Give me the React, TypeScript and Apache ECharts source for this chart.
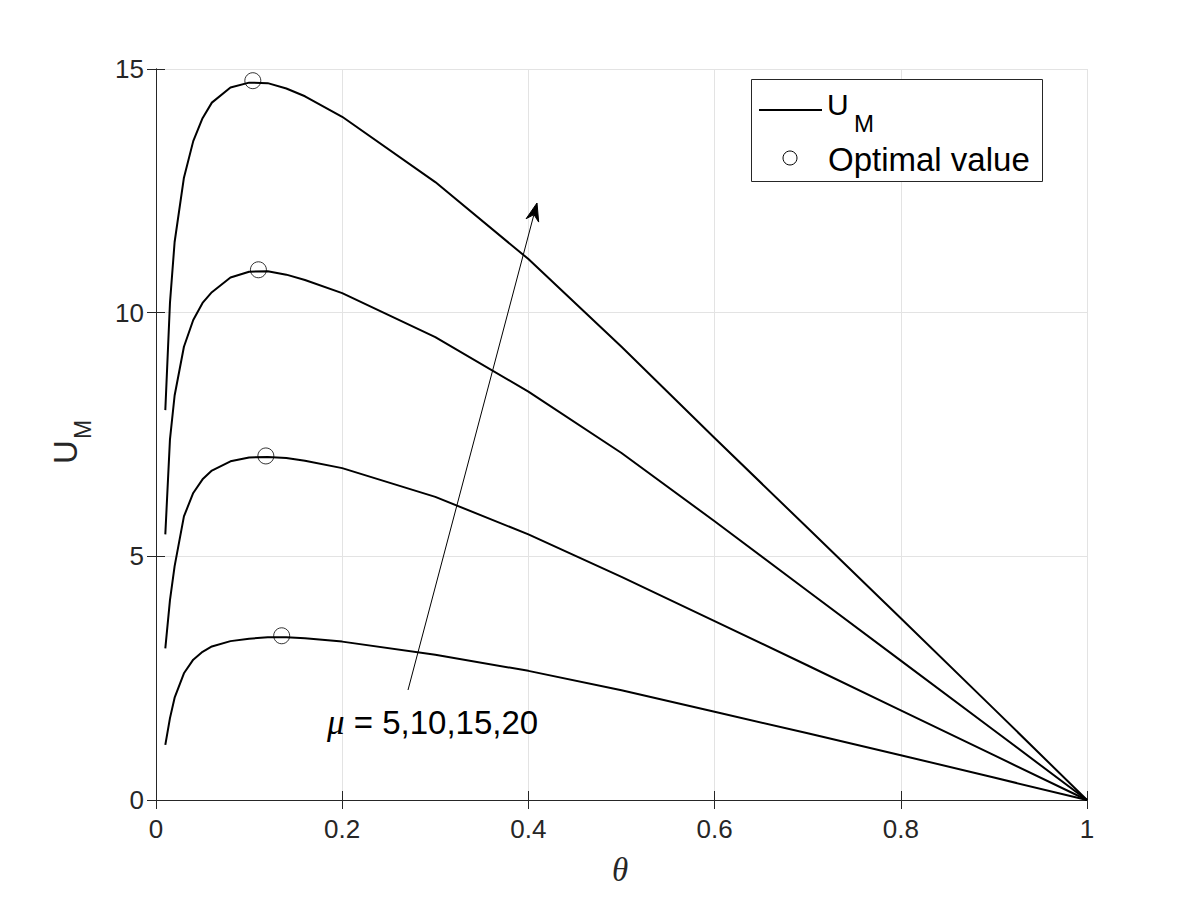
import React, { useEffect, useRef } from "react";
import * as echarts from "echarts";

// θ sample points shared by all four curves
const theta = [
  0.01, 0.015, 0.02, 0.03, 0.04, 0.05, 0.06, 0.08, 0.1, 0.12, 0.14, 0.16,
  0.2, 0.3, 0.4, 0.5, 0.6, 0.7, 0.8, 0.9, 1.0,
];

// U_M for each μ
const uMu5 = [
  1.13, 1.68, 2.1, 2.6, 2.88, 3.04, 3.15, 3.26, 3.31, 3.34, 3.34, 3.32,
  3.25, 2.98, 2.65, 2.25, 1.81, 1.37, 0.92, 0.46, 0,
];
const uMu10 = [
  3.11, 4.1, 4.8, 5.82, 6.3, 6.58, 6.76, 6.95, 7.03, 7.04, 7.02, 6.96,
  6.81, 6.22, 5.45, 4.58, 3.67, 2.76, 1.84, 0.92, 0,
];
const uMu15 = [
  5.45, 7.4, 8.3, 9.3, 9.85, 10.2, 10.42, 10.72, 10.84, 10.85, 10.78, 10.67,
  10.4, 9.5, 8.38, 7.12, 5.72, 4.29, 2.86, 1.43, 0,
];
const uMu20 = [
  8.0, 10.2, 11.45, 12.77, 13.52, 13.99, 14.31, 14.62, 14.72, 14.71, 14.6,
  14.44, 14.02, 12.68, 11.1, 9.3, 7.43, 5.58, 3.73, 1.87, 0,
];

// optimal points (one per μ)
const optTheta = [0.135, 0.118, 0.11, 0.104];
const optU = [3.37, 7.06, 10.88, 14.76];

const curves = [uMu5, uMu10, uMu15, uMu20];

const AXIS_COLOR = "#262626";
const SANS = "Liberation Sans, Arial, Helvetica, sans-serif";
const SERIF = "Liberation Serif, Times New Roman, serif";

// annotation arrow (figure pixels)
const arrowTail = [408, 690];
const arrowTip = [537, 203];

function arrowHead(tip: number[], tail: number[], len: number, half: number, notch: number) {
  const dx = tip[0] - tail[0];
  const dy = tip[1] - tail[1];
  const L = Math.hypot(dx, dy);
  const ux = dx / L;
  const uy = dy / L;
  const nx = -uy;
  const ny = ux;
  const bx = tip[0] - ux * len;
  const by = tip[1] - uy * len;
  return [
    [tip[0], tip[1]],
    [bx + nx * half, by + ny * half],
    [tip[0] - ux * notch, tip[1] - uy * notch],
    [bx - nx * half, by - ny * half],
  ];
}

const baseAxis = {
  axisLine: { show: true, lineStyle: { color: AXIS_COLOR, width: 1 } },
  axisTick: { show: true, inside: true, length: 9, lineStyle: { color: AXIS_COLOR, width: 1 } },
  splitLine: { show: false },
};

const option: any = {
  animation: false,
  backgroundColor: "#ffffff",
  grid: { left: 156, right: 113, top: 69, bottom: 100, containLabel: false },
  xAxis: [
    {
      type: "value",
      min: 0,
      max: 1,
      interval: 0.2,
      position: "bottom",
      ...baseAxis,
      splitLine: { show: true, lineStyle: { color: "#e3e3e3", width: 1 } },
      axisLabel: { color: AXIS_COLOR, fontSize: 26, fontFamily: SANS, margin: 16 },
    },
    {
      type: "value",
      min: 0,
      max: 1,
      interval: 0.2,
      position: "top",
      ...baseAxis,
      axisLabel: { show: false },
    },
  ],
  yAxis: [
    {
      type: "value",
      min: 0,
      max: 15,
      interval: 5,
      position: "left",
      ...baseAxis,
      splitLine: { show: true, lineStyle: { color: "#e3e3e3", width: 1 } },
      axisLabel: { color: AXIS_COLOR, fontSize: 26, fontFamily: SANS, margin: 12 },
    },
    {
      type: "value",
      min: 0,
      max: 15,
      interval: 5,
      position: "right",
      ...baseAxis,
      axisLabel: { show: false },
    },
  ],
  series: [
    ...curves.map((vals) => ({
      type: "line",
      name: "U_M",
      data: theta.map((t, i) => [t, vals[i]]),
      showSymbol: false,
      symbol: "none",
      smooth: false,
      lineStyle: { color: "#000000", width: 2, join: "round" },
      itemStyle: { color: "#000000" },
      z: 2,
    })),
    {
      type: "scatter",
      name: "Optimal value",
      data: optTheta.map((t, i) => [t, optU[i]]),
      symbol: "circle",
      symbolSize: 16,
      itemStyle: { color: "rgba(255,255,255,0)", borderColor: "#000000", borderWidth: 1 },
      z: 3,
    },
  ],
  graphic: [
    // arrow across the family of curves
    {
      type: "line",
      shape: {
        x1: arrowTail[0],
        y1: arrowTail[1],
        x2: arrowTip[0] - (arrowTip[0] - arrowTail[0]) * 0.02,
        y2: arrowTip[1] - (arrowTip[1] - arrowTail[1]) * 0.02,
      },
      style: { stroke: "#000", lineWidth: 1 },
      z: 10,
    },
    {
      type: "polygon",
      shape: { points: arrowHead(arrowTip, arrowTail, 18, 6.5, 12) },
      style: { fill: "#000", stroke: "#000", lineWidth: 1 },
      z: 10,
    },
    {
      type: "text",
      x: 327,
      y: 722,
      style: {
        text: "{mu|μ}{t| = 5,10,15,20}",
        verticalAlign: "middle",
        rich: {
          mu: { fontFamily: SERIF, fontStyle: "italic", fontSize: 35, fill: "#000" },
          t: { fontFamily: SANS, fontSize: 33, fill: "#000" },
        },
      },
      z: 10,
    },
    // x axis name
    {
      type: "text",
      x: 620,
      y: 870,
      style: {
        text: "θ",
        fontFamily: SERIF,
        fontStyle: "italic",
        fontSize: 33,
        fill: AXIS_COLOR,
        align: "center",
        verticalAlign: "middle",
      },
    },
    // y axis name
    {
      type: "group",
      x: 65,
      y: 452,
      rotation: Math.PI / 2,
      children: [
        {
          type: "text",
          x: 0,
          y: 0,
          style: {
            text: "U",
            fontFamily: SANS,
            fontSize: 33,
            fill: AXIS_COLOR,
            align: "center",
            verticalAlign: "middle",
          },
        },
        {
          type: "text",
          x: 13,
          y: 18,
          style: {
            text: "M",
            fontFamily: SANS,
            fontSize: 23,
            fill: AXIS_COLOR,
            align: "left",
            verticalAlign: "middle",
          },
        },
      ],
    },
    // legend
    {
      type: "group",
      children: [
        {
          type: "rect",
          shape: { x: 751.5, y: 79.5, width: 291, height: 102 },
          style: { fill: "#fff", stroke: AXIS_COLOR, lineWidth: 1 },
          z: 20,
        },
        {
          type: "line",
          shape: { x1: 759, y1: 110, x2: 822, y2: 110 },
          style: { stroke: "#000", lineWidth: 2 },
          z: 21,
        },
        {
          type: "text",
          x: 827,
          y: 104,
          style: { text: "U", fontFamily: SANS, fontSize: 30, fill: "#000", verticalAlign: "middle" },
          z: 21,
        },
        {
          type: "text",
          x: 854,
          y: 123,
          style: { text: "M", fontFamily: SANS, fontSize: 24, fill: "#000", verticalAlign: "middle" },
          z: 21,
        },
        {
          type: "circle",
          shape: { cx: 790, cy: 158, r: 7 },
          style: { fill: "none", stroke: "#000", lineWidth: 1 },
          z: 21,
        },
        {
          type: "text",
          x: 828,
          y: 159,
          style: { text: "Optimal value", fontFamily: SANS, fontSize: 33, fill: "#000", verticalAlign: "middle" },
          z: 21,
        },
      ],
    },
  ],
};

export default function App() {
  const ref = useRef<HTMLDivElement>(null);
  useEffect(() => {
    if (!ref.current) return;
    const chart = echarts.init(ref.current, null, { renderer: "svg" });
    chart.setOption(option);
    return () => chart.dispose();
  }, []);
  return (
    <div
      ref={ref}
      style={{ position: "fixed", left: 0, top: 0, width: 1200, height: 900, background: "#fff" }}
    />
  );
}
